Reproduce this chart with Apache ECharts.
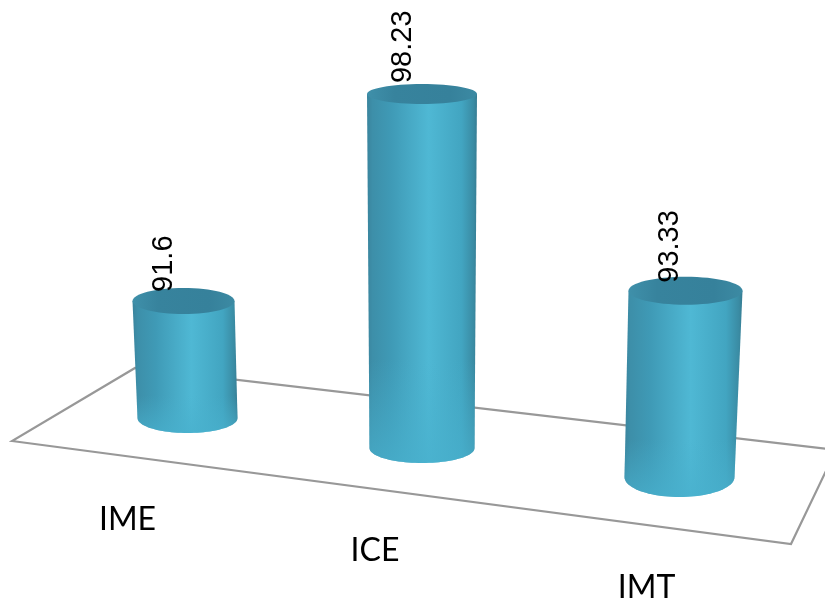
<!DOCTYPE html>
<html>
<head>
<meta charset="utf-8">
<style>html,body{margin:0;padding:0;background:#fff}#chart{width:825px;height:603px}</style>
<script src="https://cdn.jsdelivr.net/npm/echarts@6/dist/echarts.min.js"></script>
</head>
<body>
<div id="chart"></div>
<script>
const categories = ['IME', 'ICE', 'IMT'];
const values = [91.6, 98.23, 93.33];

// Value at which the cylinders meet the floor plane.
const axisMin = 88;
const axisMax = 100;

// Perspective of each column relative to the grid: floor shift, height scale,
// lean of the cap, radii of the cap and foot, placement of the two captions.
const perspective = [
  { dx: 13, dy: -30, scale: 0.94, lean: -4, topRx: 51, topRy: 13, baseRx: 50, baseRy: 15, valueDx: -20, valueDy: -9, nameDx: -60, nameY: 520 },
  { dx: 0, dy: 0, scale: 1, lean: 0, topRx: 55, topRy: 10, baseRx: 52.5, baseRy: 15, valueDx: -19, valueDy: -11, nameDx: -47, nameY: 551 },
  { dx: 10, dy: 29, scale: 1.01, lean: 6, topRx: 57, topRy: 14, baseRx: 55, baseRy: 20, valueDx: -16, valueDy: -8, nameDx: -33, nameY: 588 }
];

// Half an ellipse sampled as points, from left to right through the lower side.
function lowerArc(cx, cy, rx, ry) {
  const pts = [];
  for (let i = 0; i <= 48; i++) {
    const t = Math.PI - (Math.PI * i) / 48;
    pts.push([cx + rx * Math.cos(t), cy + ry * Math.sin(t)]);
  }
  return pts;
}

function renderCylinder(params, api) {
  const i = api.value(0);
  const v = api.value(1);
  const p = perspective[i];
  const foot = api.coord([i, axisMin]);
  const head = api.coord([i, v]);
  const bx = foot[0] + p.dx;
  const by = foot[1] + p.dy;
  const tx = bx + p.lean;
  const ty = by - (foot[1] - head[1]) * p.scale;
  const side = new echarts.graphic.LinearGradient(0, 0, 1, 0, [
    { offset: 0, color: '#3a849d' },
    { offset: 0.05, color: '#3d8fa9' },
    { offset: 0.22, color: '#3f9ab6' },
    { offset: 0.56, color: '#4fb8d4' },
    { offset: 0.86, color: '#42a5c1' },
    { offset: 0.97, color: '#3a8ba3' },
    { offset: 1, color: '#377c92' }
  ]);
  // The foot picks up floor light, which flattens the shading towards the bottom.
  const footGlow = new echarts.graphic.LinearGradient(0, 0, 0, 1, [
    { offset: 0, color: 'rgba(72,176,205,0)' },
    { offset: 0.72, color: 'rgba(72,176,205,0)' },
    { offset: 1, color: 'rgba(72,176,205,0.75)' }
  ]);
  const cap = new echarts.graphic.LinearGradient(0, 0, 1, 0, [
    { offset: 0, color: '#3f90aa' },
    { offset: 0.25, color: '#37839d' },
    { offset: 0.75, color: '#36819b' },
    { offset: 1, color: '#3c8aa3' }
  ]);
  const body = [[tx - p.topRx, ty]].concat(lowerArc(bx, by, p.baseRx, p.baseRy), [[tx + p.topRx, ty]]);
  return {
    type: 'group',
    children: [
      { type: 'polygon', shape: { points: body }, style: { fill: side } },
      { type: 'polygon', shape: { points: body }, style: { fill: footGlow } },
      { type: 'ellipse', shape: { cx: tx, cy: ty, rx: p.topRx, ry: p.topRy }, style: { fill: cap } },
      {
        type: 'text', x: tx + p.valueDx, y: ty + p.valueDy, rotation: Math.PI / 2, z2: 5,
        style: { text: String(v), font: '29px "Liberation Sans", Arial, sans-serif', fill: '#000', align: 'left', verticalAlign: 'middle' }
      },
      {
        type: 'text', x: bx + p.nameDx, y: p.nameY, z2: 5,
        style: { text: categories[i], font: '32px Lato, sans-serif', fill: '#000', align: 'center', verticalAlign: 'middle' }
      }
    ]
  };
}

const chart = echarts.init(document.getElementById('chart'), null, { renderer: 'canvas' });
chart.setOption({
  animation: false,
  backgroundColor: '#fff',
  grid: { left: 50.75, width: 742.5, top: 32.8, height: 415.2 },
  xAxis: { type: 'category', data: categories, show: false },
  yAxis: { type: 'value', min: axisMin, max: axisMax, show: false },
  // Floor plane of the 3D scene.
  graphic: [{
    type: 'polygon',
    z: 0,
    shape: { points: [[12, 441], [791, 544], [836, 450], [135, 368]] },
    style: { fill: 'none', stroke: '#989898', lineWidth: 2.2 }
  }],
  series: [{
    type: 'custom',
    coordinateSystem: 'cartesian2d',
    clip: false,
    renderItem: renderCylinder,
    encode: { x: 0, y: 1 },
    data: values.map((v, i) => [i, v])
  }]
});
</script>
</body>
</html>
